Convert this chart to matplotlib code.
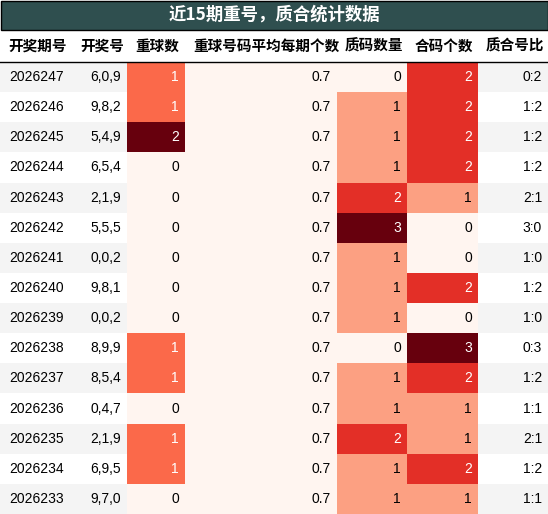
import matplotlib.pyplot as plt
from matplotlib import cm, colors
from matplotlib.patches import Rectangle

plt.rcParams['font.family'] = ['Liberation Sans', 'Noto Sans CJK SC', 'DejaVu Sans']

title = '近15期重号，质合统计数据'
headers = ['开奖期号', '开奖号', '重球数', '重球号码平均每期个数', '质码数量', '合码个数', '质合号比']
periods = ['2026247', '2026246', '2026245', '2026244', '2026243', '2026242', '2026241', '2026240',
           '2026239', '2026238', '2026237', '2026236', '2026235', '2026234', '2026233']
numbers = ['6,0,9', '9,8,2', '5,4,9', '6,5,4', '2,1,9', '5,5,5', '0,0,2', '9,8,1',
           '0,0,2', '8,9,9', '8,5,4', '0,4,7', '2,1,9', '6,9,5', '9,7,0']
repeat = [1, 1, 2, 0, 0, 0, 0, 0, 0, 1, 1, 0, 1, 1, 0]
avg_repeat = [0.7] * 15
prime = [0, 1, 1, 1, 2, 3, 1, 1, 1, 0, 1, 1, 2, 1, 1]
composite = [2, 2, 2, 2, 1, 0, 0, 2, 0, 3, 2, 1, 1, 2, 1]
ratio = ['0:2', '1:2', '1:2', '1:2', '2:1', '3:0', '1:0', '1:2', '1:0', '0:3', '1:2', '1:1', '2:1', '1:2', '1:1']

W, H = 548, 514
fig = plt.figure(figsize=(W / 100, H / 100), dpi=100)
ax = fig.add_axes([0, 0, 1, 1])
ax.set_xlim(0, W)
ax.set_ylim(H, 0)
ax.axis('off')

edges = [0, 72, 127, 185, 337, 407, 478, 548]
title_h, head_h = 30, 32
row_h = (H - title_h - head_h) / len(periods)
cmap = cm.get_cmap('Reds') if hasattr(cm, 'get_cmap') else plt.colormaps['Reds']

ax.add_patch(Rectangle((0.5, 0.5), W - 1, title_h - 0.5, fc='#2f4f4f', ec='black', lw=1))
ax.text(W / 2, title_h / 2, title, color='white', fontsize=12.5, fontweight='bold',
        ha='center', va='center', family=['Noto Sans CJK SC'])

for i, h in enumerate(headers):
    ax.text(edges[i] + 8, title_h + head_h / 2, h, fontsize=10.5, fontweight='bold',
            ha='left', va='center', family=['Noto Sans CJK SC'])
ax.plot([0, W], [title_h + head_h, title_h + head_h], color='black', lw=1)

heat = {2: (repeat, 0, 2, '{:d}'), 3: (avg_repeat, 0.7, 1.7, '{:.1f}'),
        4: (prime, 0, 3, '{:d}'), 5: (composite, 0, 3, '{:d}')}

for r in range(len(periods)):
    y0 = title_h + head_h + r * row_h
    yc = y0 + row_h / 2
    base = '#f4f4f4' if r % 2 == 0 else 'white'
    cells = [periods[r], numbers[r], None, None, None, None, ratio[r]]
    for c in range(7):
        x0, x1 = edges[c], edges[c + 1]
        if c in heat:
            vals, vmin, vmax, fmt = heat[c]
            v = vals[r]
            t = (v - vmin) / (vmax - vmin)
            ax.add_patch(Rectangle((x0, y0), x1 - x0, row_h, fc=cmap(t), ec='none'))
            tc = 'white' if t > 0.4 else 'black'
            ax.text(x1 - 6, yc, fmt.format(v), color=tc, fontsize=10, ha='right', va='center')
        else:
            ax.add_patch(Rectangle((x0, y0), x1 - x0, row_h, fc=base, ec='none'))
            if c == 0:
                ax.text(x0 + 9, yc, cells[c], fontsize=10, ha='left', va='center')
            else:
                ax.text(x1 - 6, yc, cells[c], fontsize=10, ha='right', va='center')

fig.savefig('out.png', dpi=100)
